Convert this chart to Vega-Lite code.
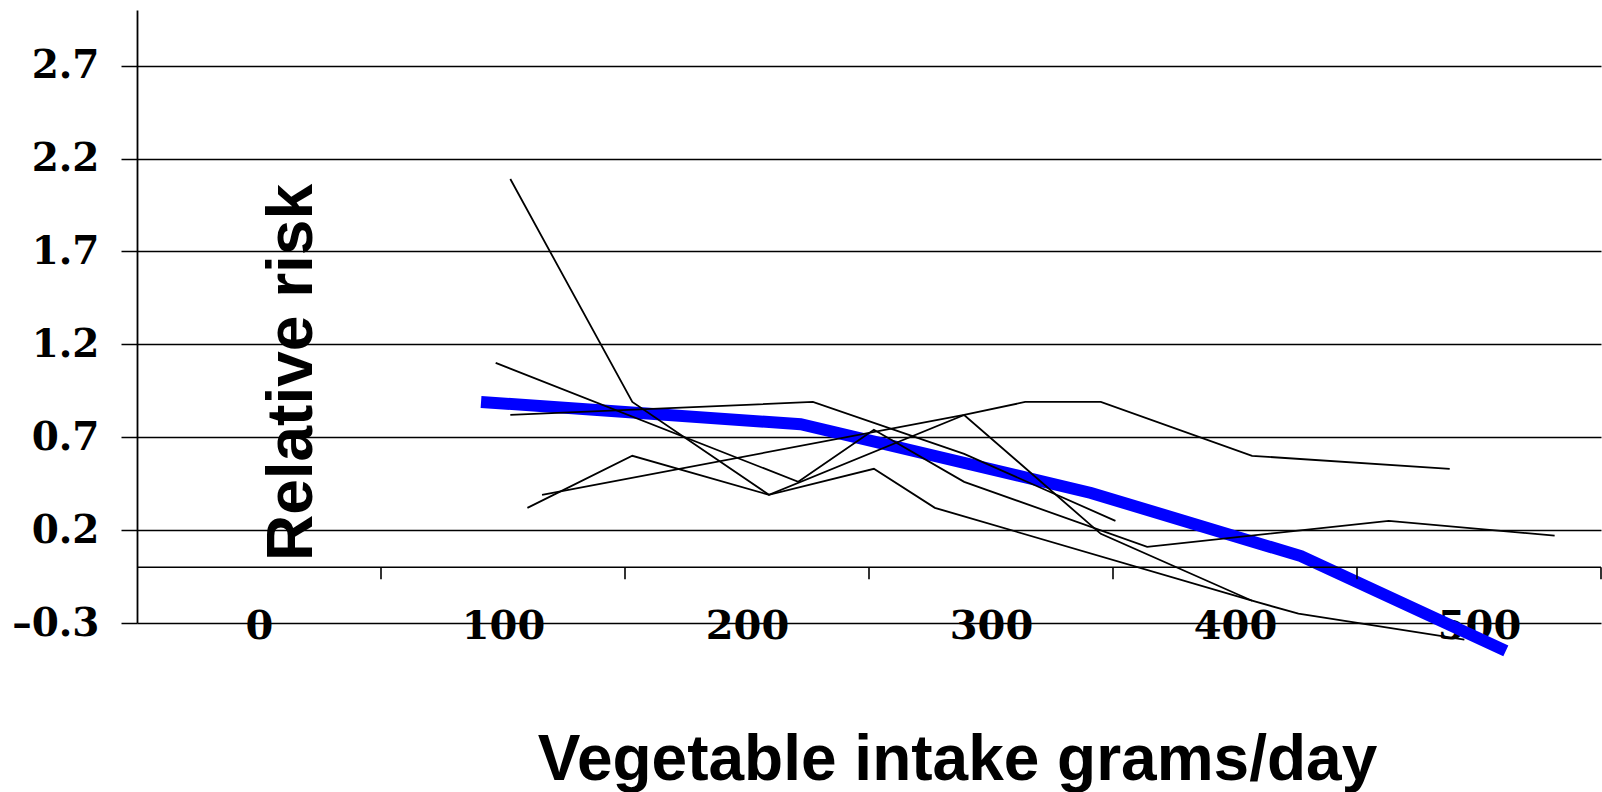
{
  "$schema": "https://vega.github.io/schema/vega-lite/v6.json",
  "width": 1464,
  "height": 613,
  "autosize": {"type": "none"},
  "padding": {"left": 137, "top": 10, "right": 1, "bottom": 169},
  "background": "white",
  "config": {"view": {"stroke": null}},
  "datasets": {
    "blue": [
      {"x": 91, "y": 0.89},
      {"x": 222, "y": 0.77},
      {"x": 341, "y": 0.40},
      {"x": 427, "y": 0.06},
      {"x": 511, "y": -0.45}
    ],
    "studies": [
      {"study": "A", "x": 103, "y": 2.09},
      {"study": "A", "x": 153, "y": 0.89},
      {"study": "A", "x": 209, "y": 0.39},
      {"study": "A", "x": 252, "y": 0.53},
      {"study": "A", "x": 277, "y": 0.32},
      {"study": "A", "x": 407, "y": -0.18},
      {"study": "B", "x": 97, "y": 1.10},
      {"study": "B", "x": 221, "y": 0.46},
      {"study": "B", "x": 252, "y": 0.74},
      {"study": "B", "x": 289, "y": 0.46},
      {"study": "B", "x": 364, "y": 0.11},
      {"study": "B", "x": 463, "y": 0.25},
      {"study": "B", "x": 531, "y": 0.17},
      {"study": "C", "x": 110, "y": 0.32},
      {"study": "C", "x": 153, "y": 0.60},
      {"study": "C", "x": 209, "y": 0.39},
      {"study": "C", "x": 289, "y": 0.82},
      {"study": "C", "x": 345, "y": 0.18},
      {"study": "C", "x": 407, "y": -0.18},
      {"study": "C", "x": 426, "y": -0.25},
      {"study": "C", "x": 494, "y": -0.39},
      {"study": "D", "x": 103, "y": 0.82},
      {"study": "D", "x": 227, "y": 0.89},
      {"study": "D", "x": 289, "y": 0.61},
      {"study": "D", "x": 351, "y": 0.25},
      {"study": "E", "x": 116, "y": 0.39},
      {"study": "E", "x": 289, "y": 0.82},
      {"study": "E", "x": 314, "y": 0.89},
      {"study": "E", "x": 345, "y": 0.89},
      {"study": "E", "x": 407, "y": 0.60},
      {"study": "E", "x": 488, "y": 0.53}
    ],
    "ticks": [
      {"x": 50}, {"x": 150}, {"x": 250}, {"x": 350}, {"x": 450}, {"x": 550}
    ],
    "zero": [
      {"y": 0}
    ]
  },
  "layer": [
    {
      "data": {"name": "blue"},
      "mark": {"type": "line", "color": "#0000FF", "strokeWidth": 12, "strokeCap": "butt", "strokeJoin": "miter"},
      "encoding": {
        "x": {
          "field": "x",
          "type": "quantitative",
          "scale": {"domain": [-50, 550], "nice": false, "zero": false},
          "axis": {
            "values": [0, 100, 200, 300, 400, 500],
            "ticks": false,
            "domain": false,
            "grid": false,
            "labelFont": "DejaVu Serif",
            "labelFontWeight": "bold",
            "labelFontSize": 40,
            "labelColor": "black",
            "labelBaseline": "middle",
            "labelPadding": 3,
            "labelFlush": false,
            "labelOverlap": false,
            "labelBound": false,
            "title": "Vegetable intake grams/day",
            "titleFont": "Liberation Sans",
            "titleFontWeight": "bold",
            "titleFontSize": 64,
            "titleColor": "black",
            "titleX": 820,
            "titleY": 156,
            "titleAlign": "center",
            "titleBaseline": "alphabetic"
          }
        },
        "y": {
          "field": "y",
          "type": "quantitative",
          "scale": {"domain": [-0.3, 3.0], "nice": false, "zero": false},
          "axis": {
            "values": [-0.3, 0.2, 0.7, 1.2, 1.7, 2.2, 2.7],
            "labelExpr": "datum.value < 0 ? '–' + format(-datum.value, '.1f') : format(datum.value, '.1f')",
            "grid": true,
            "gridColor": "black",
            "gridWidth": 1.5,
            "gridOpacity": 1,
            "ticks": true,
            "tickSize": 16,
            "tickColor": "black",
            "tickWidth": 1.5,
            "domain": true,
            "domainColor": "black",
            "domainWidth": 1.8,
            "labelFont": "DejaVu Serif",
            "labelFontWeight": "bold",
            "labelFontSize": 39,
            "labelColor": "black",
            "labelBaseline": "middle",
            "labelPadding": 22,
            "labelFlush": false,
            "labelOverlap": false,
            "labelBound": false,
            "title": "Relative risk",
            "titleFont": "Liberation Sans",
            "titleFontWeight": "bold",
            "titleFontSize": 64,
            "titleColor": "black",
            "titleAngle": 270,
            "titleX": 174,
            "titleY": 362,
            "titleAlign": "center",
            "titleBaseline": "alphabetic"
          }
        }
      }
    },
    {
      "data": {"name": "studies"},
      "mark": {"type": "line", "color": "black", "strokeWidth": 1.8},
      "encoding": {
        "x": {"field": "x", "type": "quantitative"},
        "y": {"field": "y", "type": "quantitative"},
        "detail": {"field": "study", "type": "nominal"}
      }
    },
    {
      "data": {"name": "zero"},
      "mark": {"type": "rule", "color": "black", "strokeWidth": 1.6, "opacity": 1},
      "encoding": {
        "y": {"field": "y", "type": "quantitative"}
      }
    },
    {
      "data": {"name": "ticks"},
      "mark": {"type": "tick", "orient": "vertical", "color": "black", "opacity": 1, "size": 12, "thickness": 1.6, "yOffset": 6},
      "encoding": {
        "x": {"field": "x", "type": "quantitative"},
        "y": {"datum": 0, "type": "quantitative"}
      }
    }
  ]
}
